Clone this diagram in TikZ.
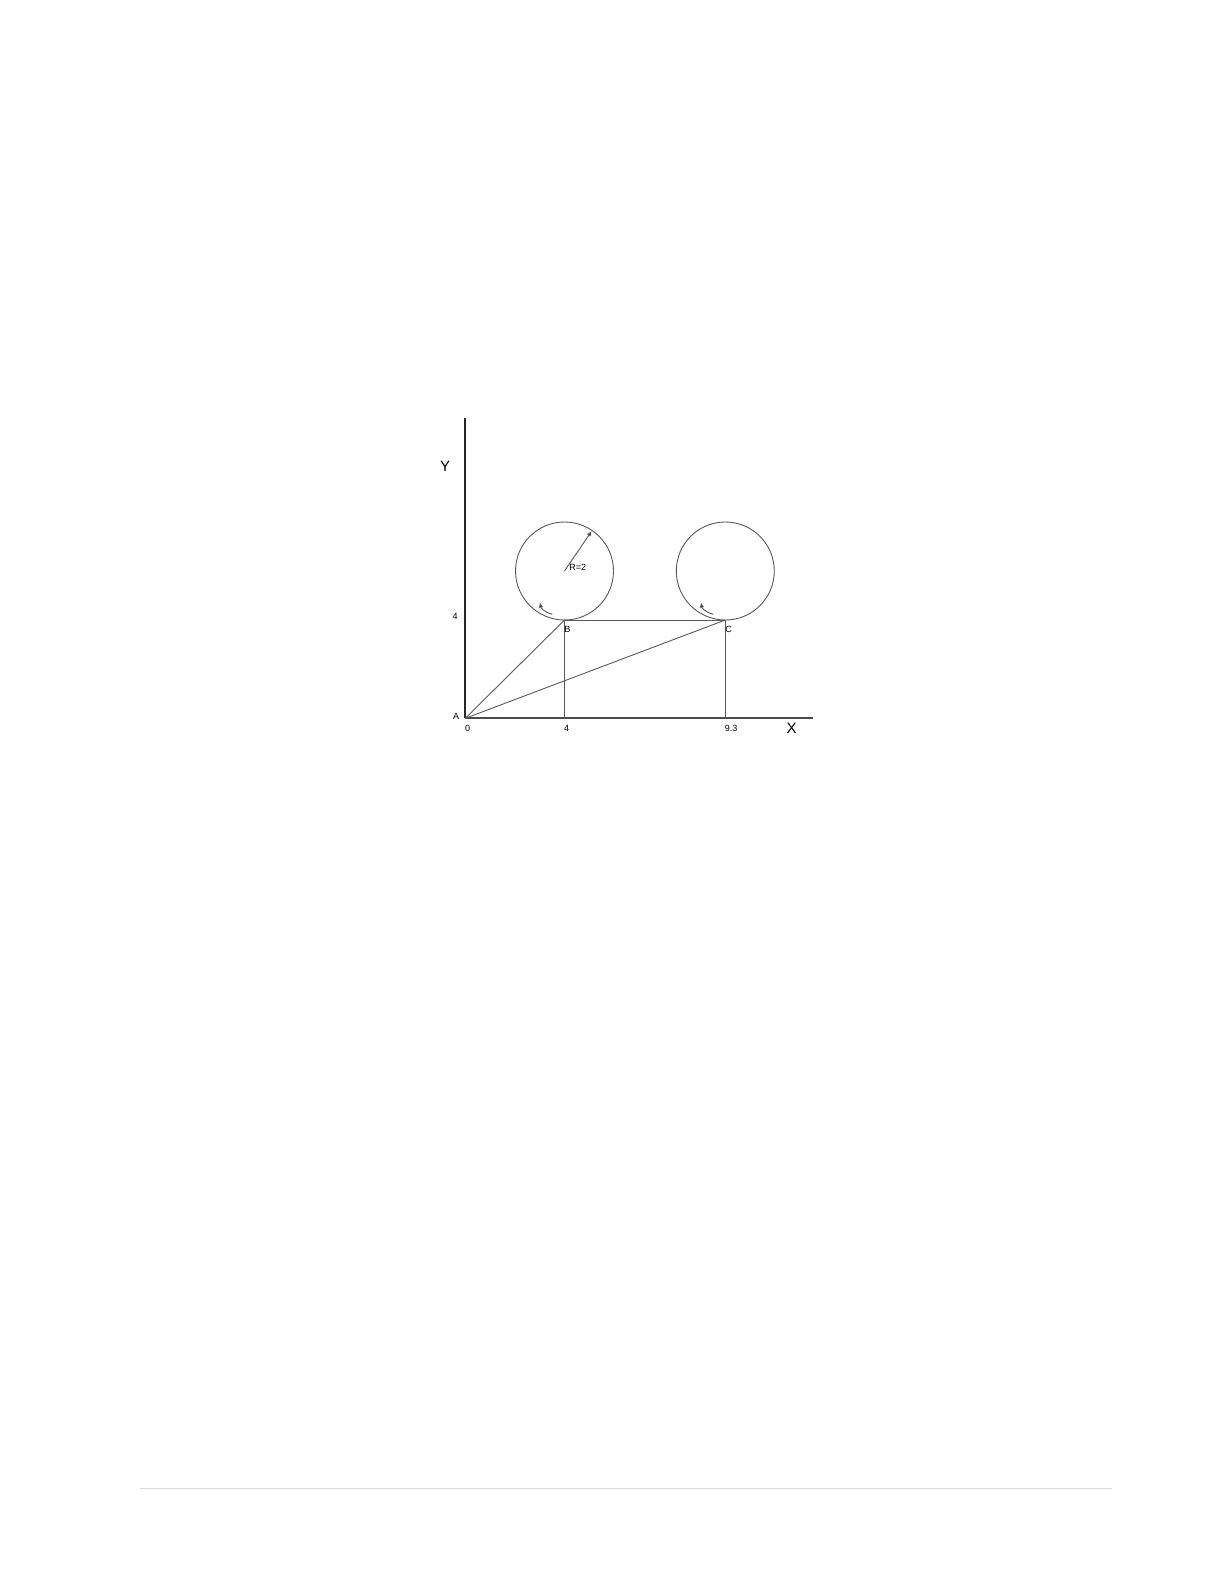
\documentclass[tikz,border=0pt]{standalone}
\usepackage{fontspec}
\setmainfont{Liberation Sans}
\usetikzlibrary{arrows.meta}
\begin{document}
\begin{tikzpicture}[x=0.5pt,y=-0.5pt,
  thin line/.style={draw=black!65,line width=0.45pt},
  axis line/.style={draw=black!85,line width=1pt},
  small label/.style={font=\fontsize{4.5}{5}\selectfont,inner sep=0pt},
  big label/.style={font=\fontsize{7.5}{9}\selectfont,inner sep=0pt},
  tip/.style={-{Latex[length=2.6pt,width=2.2pt,fill=black]}}]
\useasboundingbox (0,0) rectangle (1224,1584);
% points
\coordinate (A) at (465.3,718.3);
\coordinate (Ytop) at (465.3,418);
\coordinate (Xend) at (812.5,718.3);
\coordinate (B) at (564.5,620);
\coordinate (C) at (725.3,620);
\coordinate (Bfoot) at (564.5,718.3);
\coordinate (Cfoot) at (725.3,718.3);
\coordinate (O1) at (564.5,571);
\coordinate (O2) at (725.3,571);
\coordinate (R1) at (591.7,531);
% axes
\draw[axis line] (Ytop) -- (A);
\draw[axis line,draw=black!70] (A) -- (Xend);
% circles
\draw[thin line] (O1) circle[radius=49];
\draw[thin line] (O2) circle[radius=49];
% lines
\draw[thin line] (B) -- (C);
\draw[thin line] (B) -- (Bfoot);
\draw[thin line] (C) -- (Cfoot);
\draw[thin line] (A) -- (B);
\draw[thin line] (A) -- (C);
% radius arrow
\draw[thin line,tip] (O1) -- (R1);
% curved arrows
\coordinate (s1) at (552.3,614.3);
\coordinate (e1) at (540,602.3);
\coordinate (s2) at (713.3,614.3);
\coordinate (e2) at (701,602.3);
\draw[thin line,tip] (s1) .. controls (544,612) and (541,608) .. (e1);
\draw[thin line,tip] (s2) .. controls (705,612) and (702,608) .. (e2);
% labels
\node[big label] (Ylab) at (445,466) {Y};
\node[big label] (Xlab) at (791.7,728.5) {X};
\node[small label] (y4) at (455,616) {4};
\node[small label] (Alab) at (456,716) {A};
\node[small label] (x0) at (467.7,728.3) {0};
\node[small label] (x4) at (566.7,728.3) {4};
\node[small label] (x93) at (731,728.3) {9.3};
\node[small label] (Blab) at (567.3,629.3) {B};
\node[small label] (Clab) at (728.7,629.3) {C};
\node[small label,anchor=west] (Rlab) at (569,567.3) {R=2};
% footer rule
\coordinate (f1) at (140,1488);
\coordinate (f2) at (1112,1488);
\draw[draw=black!15,line width=0.5pt] (f1) -- (f2);
\end{tikzpicture}
\end{document}
